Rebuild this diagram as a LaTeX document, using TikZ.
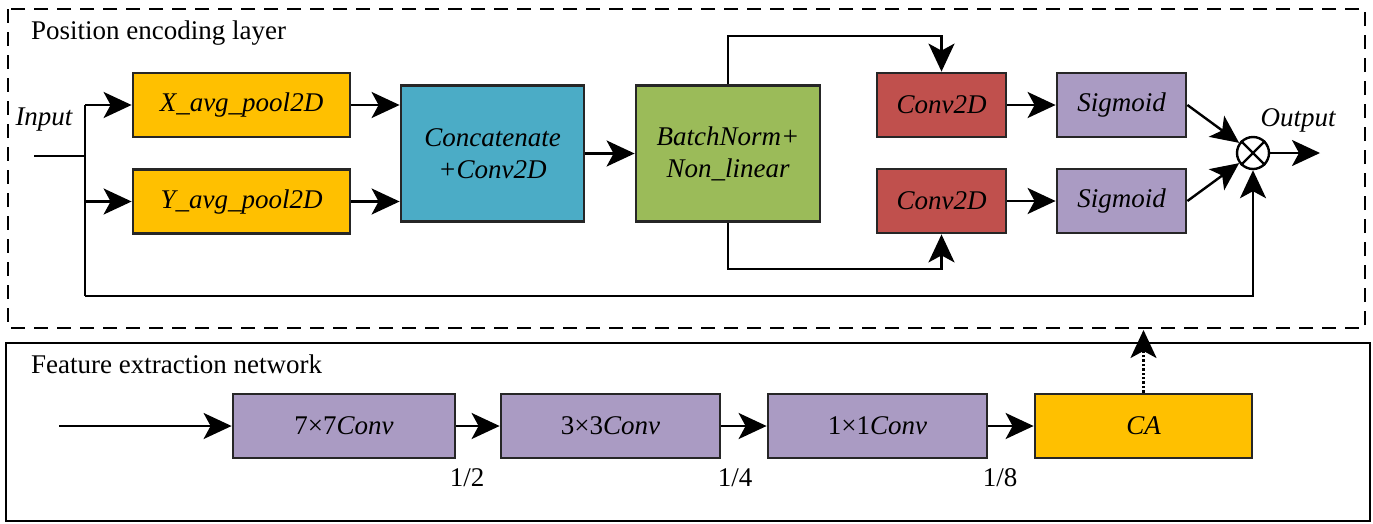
\documentclass[tikz,border=0pt]{standalone}
\usepackage{fontspec}
\setmainfont{Liberation Serif}[ItalicFont={Liberation Serif Italic}]
\usetikzlibrary{arrows.meta,calc}

\definecolor{poolgold}{HTML}{FFC000}
\definecolor{catblue}{HTML}{4BACC6}
\definecolor{bngreen}{HTML}{9BBB59}
\definecolor{convred}{HTML}{C0504D}
\definecolor{sigpurple}{HTML}{AA9BC3}
\definecolor{edge}{HTML}{262626}

\tikzset{
  blk/.style={draw=edge, line width=2.8pt, inner sep=0pt, align=center,
              font=\fontsize{27pt}{32pt}\selectfont\itshape},
  flow/.style={line width=2.4pt, -{Stealth[length=28pt,width=26pt,inset=7pt]}},
  wire/.style={line width=2.4pt},
  lbl/.style={font=\fontsize{27pt}{32pt}\selectfont, inner sep=0pt},
}

\begin{document}
\begin{tikzpicture}[x=1pt,y=-1pt]
\useasboundingbox (0,0) rectangle (1373,523);

% frames
\draw[line width=2.2pt, dash pattern=on 14pt off 9pt] (8,9) rectangle (1365,328);
\draw[line width=2.2pt] (6,343) rectangle (1370,521);
\node[lbl, anchor=base west] (ttop) at (31,39) {Position encoding layer};
\node[lbl, anchor=base west] (tbot) at (31,373) {Feature extraction network};

% position encoding blocks
\node[blk, fill=poolgold, minimum width=217pt, minimum height=64pt] (xp) at (241.5,105) {X\_avg\_pool2D};
\node[blk, fill=poolgold, minimum width=217pt, minimum height=64pt] (yp) at (241.5,201.5) {Y\_avg\_pool2D};
\node[blk, fill=catblue, minimum width=183pt, minimum height=136pt] (cat) at (492.5,153.5) {Concatenate\\+Conv2D};
\node[blk, fill=bngreen, minimum width=184pt, minimum height=136pt] (bn) at (728,153.5) {BatchNorm+\\Non\_linear};
\node[blk, fill=convred, minimum width=129pt, minimum height=64pt] (cva) at (941.5,105) {Conv2D};
\node[blk, fill=convred, minimum width=129pt, minimum height=64pt] (cvb) at (941.5,201) {Conv2D};
\node[blk, fill=sigpurple, minimum width=129pt, minimum height=64pt] (sga) at (1121.5,105) {Sigmoid};
\node[blk, fill=sigpurple, minimum width=129pt, minimum height=64pt] (sgb) at (1121.5,201) {Sigmoid};
\node[circle, draw=black, line width=2.4pt, minimum size=32pt, inner sep=0pt] (mul) at (1253,153) {};
\draw[line width=2.2pt] (mul.north west) -- (mul.south east) (mul.north east) -- (mul.south west);

\node[lbl, font=\fontsize{27pt}{32pt}\selectfont\itshape] (lin) at (44,120) {Input};
\node[lbl, font=\fontsize{27pt}{32pt}\selectfont\itshape] (lout) at (1298,120) {Output};

\coordinate (in) at (34,156);
\coordinate (jn) at (85,156);
\coordinate (jt) at (85,105);
\coordinate (jb) at (85,201.5);
\coordinate (jr) at (85,296);
\coordinate (out) at (1320,153);

% input splitting
\draw[wire] (in) -- (jn);
\draw[wire] (jt) -- (jr);
\draw[flow] (jt) -- (xp.west);
\draw[flow] (jb) -- (yp.west);
\draw[flow] (xp.east) -- (xp.east -| cat.west);
\draw[flow] (yp.east) -- (yp.east -| cat.west);
\draw[flow] (cat) -- (bn);
\draw[flow] (bn.north) -- ++(0,-48) -| (cva.north);
\draw[flow] (bn.south) -- ++(0,46) -| (cvb.south);
\draw[flow] (cva) -- (sga);
\draw[flow] (cvb) -- (sgb);
\draw[flow] (sga.east) -- (mul);
\draw[flow] (sgb.east) -- (mul);
\draw[flow] (jr) -| (mul.south);
\draw[flow] (mul.east) -- (out);

% feature extraction chain
\node[blk, fill=sigpurple, minimum width=222pt, minimum height=64pt, font=\fontsize{27pt}{32pt}\selectfont] (c7) at (344,426) {7×7\textit{Conv}};
\node[blk, fill=sigpurple, minimum width=219pt, minimum height=64pt, font=\fontsize{27pt}{32pt}\selectfont] (c3) at (610.5,426) {3×3\textit{Conv}};
\node[blk, fill=sigpurple, minimum width=219pt, minimum height=64pt, font=\fontsize{27pt}{32pt}\selectfont] (c1) at (877.5,426) {1×1\textit{Conv}};
\node[blk, fill=poolgold, minimum width=217pt, minimum height=64pt] (ca) at (1143.5,426) {CA};

\coordinate (fin) at (59,426);
\coordinate (catop) at (1143.5,330);
\draw[flow] (fin) -- (c7);
\draw[flow] (c7) -- (c3);
\draw[flow] (c3) -- (c1);
\draw[flow] (c1) -- (ca);
\draw[line width=2.4pt, dotted, -{Stealth[length=28pt,width=26pt,inset=7pt]}] (ca.north) -- (catop);

\node[lbl] (r2) at (467,478) {1/2};
\node[lbl] (r4) at (735,478) {1/4};
\node[lbl] (r8) at (1000,478) {1/8};
\end{tikzpicture}
\end{document}
